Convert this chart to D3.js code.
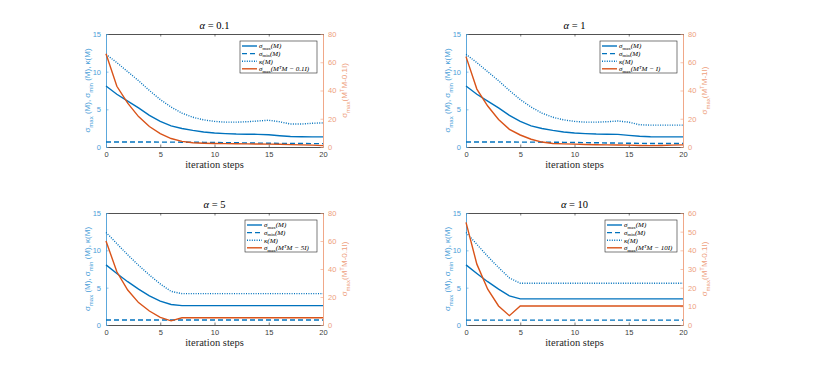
<!DOCTYPE html>
<html>
<head>
<meta charset="utf-8">
<script src="https://cdn.jsdelivr.net/npm/d3@7"></script>
<style>
  body { margin: 0; background: #fff; }
  svg { display: block; }
</style>
</head>
<body>
<div id="chart"></div>
<script>
// iteration steps 0..20
const steps = [0,1,2,3,4,5,6,7,8,9,10,11,12,13,14,15,16,17,18,19,20];

// alpha = 0.1
const smax01  = [8.1,7.0,6.1,5.2,4.2,3.4,2.8,2.45,2.2,2.0,1.85,1.78,1.72,1.7,1.68,1.62,1.5,1.4,1.36,1.35,1.35];
const smin01  = [0.67,0.67,0.67,0.66,0.66,0.65,0.65,0.64,0.63,0.62,0.6,0.58,0.56,0.54,0.52,0.5,0.48,0.47,0.46,0.45,0.45];
const kappa01 = [12.3,11.2,10.0,8.8,7.5,6.3,5.3,4.5,3.95,3.6,3.4,3.3,3.3,3.35,3.45,3.55,3.35,3.05,3.05,3.15,3.2];
const res01   = [66,43,31,21.5,14.5,9.5,6,4,3,2.7,2.5,2.4,2.3,2.2,2.1,2.0,1.9,1.7,1.5,1.3,1.0];

// alpha = 1
const smax1  = [8.1,7.0,6.1,5.2,4.2,3.4,2.8,2.45,2.2,2.0,1.85,1.78,1.72,1.7,1.68,1.55,1.42,1.36,1.35,1.35,1.35];
const smin1  = [0.67,0.67,0.67,0.66,0.66,0.65,0.65,0.64,0.63,0.62,0.6,0.58,0.56,0.54,0.52,0.5,0.48,0.47,0.46,0.46,0.46];
const kappa1 = [12.3,11.2,10.0,8.8,7.5,6.3,5.3,4.5,3.95,3.6,3.4,3.3,3.3,3.35,3.45,3.3,2.95,2.9,2.9,2.9,2.9];
const res1   = [64,41,29,19.5,12.5,8.5,5.5,3.5,2.5,2.2,2.0,1.8,1.6,1.5,1.4,1.3,1.1,1.0,1.1,1.3,1.5];

// alpha = 5
const smax5  = [8.05,6.9,5.8,4.8,3.9,3.2,2.75,2.6,2.6,2.6,2.6,2.6,2.6,2.6,2.6,2.6,2.6,2.6,2.6,2.6,2.6];
const smin5  = [0.67,0.67,0.67,0.67,0.67,0.67,0.67,0.67,0.67,0.67,0.67,0.67,0.67,0.67,0.67,0.67,0.67,0.67,0.67,0.67,0.67];
const kappa5 = [12.4,10.9,9.4,8.0,6.7,5.5,4.5,4.2,4.2,4.2,4.2,4.2,4.2,4.2,4.2,4.2,4.2,4.2,4.2,4.2,4.2];
const res5   = [60,38,25,16,10,5.5,3,5.2,5.2,5.2,5.2,5.2,5.2,5.2,5.2,5.2,5.2,5.2,5.2,5.2,5.2];

// alpha = 10
const smax10  = [8.05,6.9,5.8,4.8,3.9,3.5,3.5,3.5,3.5,3.5,3.5,3.5,3.5,3.5,3.5,3.5,3.5,3.5,3.5,3.5,3.5];
const smin10  = [0.65,0.65,0.65,0.65,0.65,0.65,0.65,0.65,0.65,0.65,0.65,0.65,0.65,0.65,0.65,0.65,0.65,0.65,0.65,0.65,0.65];
const kappa10 = [12.4,10.8,9.2,7.7,6.3,5.6,5.6,5.6,5.6,5.6,5.6,5.6,5.6,5.6,5.6,5.6,5.6,5.6,5.6,5.6,5.6];
const res10   = [55,32.6,19.2,10.2,5,10.2,10.2,10.2,10.2,10.2,10.2,10.2,10.2,10.2,10.2,10.2,10.2,10.2,10.2,10.2,10.2];

const titles = ['0.1', '1', '5', '10'];
const shiftLabels = ['0.1I', 'I', '5I', '10I'];          // legend: M^T M - ...
const rightLabels = ['0.1I', '1I', '0.1I', '0.1I'];      // right axis label text
const leftTicks = [0, 5, 10, 15];
const rightMax = [80, 80, 80, 60];
const xTicks = [0, 5, 10, 15, 20];

const panels = [
  {x0: 106, x1: 323, y0: 34,  y1: 147, smax: smax01, smin: smin01, kappa: kappa01, res: res01},
  {x0: 466, x1: 683, y0: 34,  y1: 147, smax: smax1,  smin: smin1,  kappa: kappa1,  res: res1},
  {x0: 106, x1: 323, y0: 213, y1: 325, smax: smax5,  smin: smin5,  kappa: kappa5,  res: res5},
  {x0: 466, x1: 683, y0: 213, y1: 325, smax: smax10, smin: smin10, kappa: kappa10, res: res10}
];

const BLUE = '#0072BD';
const ORANGE = '#D95319';
const BLUE_AX = '#4A9ED8';
const ORANGE_AX = '#EE9E7C';
const SERIF = '"Liberation Serif", "DejaVu Serif", serif';
const SANS = '"Liberation Sans", Arial, sans-serif';

const svg = d3.select('#chart').append('svg')
  .attr('width', 817).attr('height', 376);

panels.forEach((p, i) => {
  const g = svg.append('g');
  const x = d3.scaleLinear().domain([0, 20]).range([p.x0, p.x1]);
  const yL = d3.scaleLinear().domain([0, 15]).range([p.y1, p.y0]);
  const yR = d3.scaleLinear().domain([0, rightMax[i]]).range([p.y1, p.y0]);

  // bottom axis (ticks inward)
  const xAxis = g.append('g').attr('transform', `translate(0,${p.y1})`)
    .call(d3.axisBottom(x).tickValues(xTicks).tickSize(-2.5).tickPadding(5).tickSizeOuter(0));
  xAxis.select('.domain').attr('stroke', '#262626').attr('stroke-width', 0.8);
  xAxis.selectAll('line').attr('stroke', '#262626').attr('stroke-width', 0.6);
  xAxis.selectAll('text').attr('font-family', SANS).attr('font-size', 7.5).attr('fill', '#404040');

  // top box line with ticks
  const xTop = g.append('g').attr('transform', `translate(0,${p.y0})`)
    .call(d3.axisTop(x).tickValues(xTicks).tickSize(-2.5).tickFormat('').tickSizeOuter(0));
  xTop.select('.domain').attr('stroke', '#262626').attr('stroke-width', 0.8);
  xTop.selectAll('line').attr('stroke', '#262626').attr('stroke-width', 0.6);

  // left axis
  const ax = g.append('g').attr('transform', `translate(${p.x0},0)`)
    .call(d3.axisLeft(yL).tickValues(leftTicks).tickSize(-2.5).tickPadding(5).tickSizeOuter(0));
  ax.select('.domain').attr('stroke', BLUE_AX).attr('stroke-width', 0.9);
  ax.selectAll('line').attr('stroke', BLUE_AX).attr('stroke-width', 0.6);
  ax.selectAll('text').attr('font-family', SANS).attr('font-size', 7.5).attr('fill', BLUE_AX);

  // right axis
  const ar = g.append('g').attr('transform', `translate(${p.x1},0)`)
    .call(d3.axisRight(yR).ticks(rightMax[i] === 60 ? 6 : 4).tickSize(-2.5).tickPadding(5).tickSizeOuter(0));
  ar.select('.domain').attr('stroke', ORANGE_AX).attr('stroke-width', 0.9);
  ar.selectAll('line').attr('stroke', ORANGE_AX).attr('stroke-width', 0.6);
  ar.selectAll('text').attr('font-family', SANS).attr('font-size', 7.5).attr('fill', ORANGE_AX);

  // lines
  const lineL = arr => d3.line().x((d, k) => x(steps[k])).y(d => yL(d))(arr);
  const lineR = arr => d3.line().x((d, k) => x(steps[k])).y(d => yR(d))(arr);

  g.append('path').attr('d', lineL(p.smax)).attr('fill', 'none')
    .attr('stroke', BLUE).attr('stroke-width', 1.4);
  g.append('path').attr('d', lineL(p.smin)).attr('fill', 'none')
    .attr('stroke', BLUE).attr('stroke-width', 1.4).attr('stroke-dasharray', '5,3');
  g.append('path').attr('d', lineL(p.kappa)).attr('fill', 'none')
    .attr('stroke', BLUE).attr('stroke-width', 1.4).attr('stroke-dasharray', '1,1.4');
  g.append('path').attr('d', lineR(p.res)).attr('fill', 'none')
    .attr('stroke', ORANGE).attr('stroke-width', 1.4);

  // title
  const t = g.append('text').attr('x', (p.x0 + p.x1) / 2).attr('y', p.y0 - 5)
    .attr('text-anchor', 'middle').attr('font-family', SERIF).attr('font-size', 10.5).attr('fill', '#000');
  t.append('tspan').attr('font-style', 'italic').text('α');
  t.append('tspan').text(' = ' + titles[i]);

  // x label
  g.append('text').attr('x', (p.x0 + p.x1) / 2).attr('y', p.y1 + 21)
    .attr('text-anchor', 'middle').attr('font-family', SERIF).attr('font-size', 10.5)
    .attr('fill', '#262626').text('iteration steps');

  // left y label
  const ly = g.append('text')
    .attr('transform', `translate(${p.x0 - 16},${(p.y0 + p.y1) / 2}) rotate(-90)`)
    .attr('text-anchor', 'middle').attr('font-family', SANS).attr('font-size', 8).attr('fill', BLUE_AX);
  ly.append('tspan').text('σ');
  ly.append('tspan').attr('font-size', 6).attr('dy', 2.5).text('max');
  ly.append('tspan').attr('dy', -2.5).text(' (M), σ');
  ly.append('tspan').attr('font-size', 6).attr('dy', 2.5).text('min');
  ly.append('tspan').attr('dy', -2.5).text(' (M), κ(M)');

  // right y label
  const ry = g.append('text')
    .attr('transform', `translate(${p.x1 + 24},${(p.y0 + p.y1) / 2}) rotate(-90)`)
    .attr('text-anchor', 'middle').attr('font-family', SANS).attr('font-size', 8).attr('fill', ORANGE_AX);
  ry.append('tspan').text('σ');
  ry.append('tspan').attr('font-size', 6).attr('dy', 2.5).text('max');
  ry.append('tspan').attr('dy', -2.5).text('(M');
  ry.append('tspan').attr('font-size', 6).attr('dy', -3).text('T');
  ry.append('tspan').attr('dy', 3).text('M-' + rightLabels[i] + ')');

  // legend
  const lw = i < 2 ? 77 : 72;
  const lx = p.x1 - 6 - lw;
  const ly0 = p.y0 + 7;
  const leg = g.append('g');
  leg.append('rect').attr('x', lx).attr('y', ly0).attr('width', lw).attr('height', 32)
    .attr('fill', '#fff').attr('stroke', '#262626').attr('stroke-width', 0.6);
  const items = [
    {dash: null, color: BLUE, sub: 'max', arg: 'M'},
    {dash: '5,3', color: BLUE, sub: 'min', arg: 'M'},
    {dash: '1,1.4', color: BLUE, sub: null, arg: 'M'},
    {dash: null, color: ORANGE, sub: 'max', arg: 'res'}
  ];
  items.forEach((it, k) => {
    const yy = ly0 + 5 + k * 7.6;
    leg.append('line').attr('x1', lx + 2).attr('x2', lx + 17).attr('y1', yy).attr('y2', yy)
      .attr('stroke', it.color).attr('stroke-width', 1.4)
      .attr('stroke-dasharray', it.dash);
    const tx = leg.append('text').attr('x', lx + 19).attr('y', yy + 2.3)
      .attr('font-family', SERIF).attr('font-size', 7).attr('font-style', 'italic').attr('fill', '#000');
    if (it.sub) {
      tx.append('tspan').text('σ');
      tx.append('tspan').attr('font-size', 4.8).attr('dy', 1.5).attr('font-style', 'normal').text(it.sub);
      tx.append('tspan').attr('dy', -1.5).text('(');
    } else {
      tx.append('tspan').text('κ(');
    }
    if (it.arg === 'M') {
      tx.append('tspan').text('M)');
    } else {
      tx.append('tspan').text('M');
      tx.append('tspan').attr('font-size', 4.8).attr('dy', -2.5).text('T');
      tx.append('tspan').attr('dy', 2.5).text('M − ' + shiftLabels[i] + ')');
    }
  });
});
</script>
</body>
</html>
